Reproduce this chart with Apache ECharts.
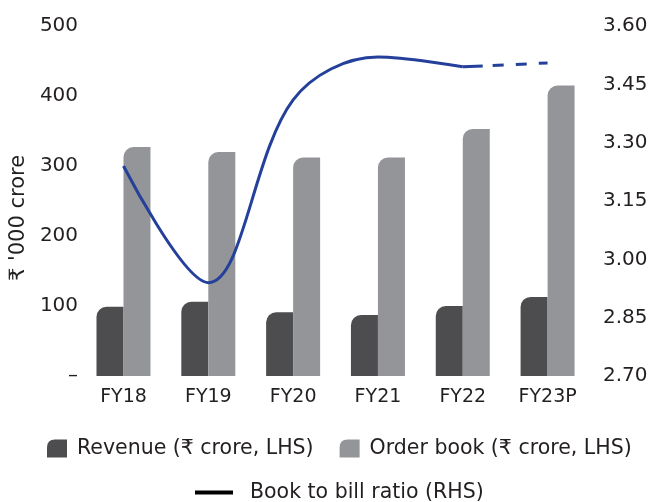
<!DOCTYPE html>
<html>
<head>
<meta charset="utf-8">
<script src="https://cdn.jsdelivr.net/npm/echarts@6/dist/echarts.min.js"></script>
<style>
  html, body { margin: 0; padding: 0; background: #fff; }
  #chart-container { width: 653px; height: 502px; }
</style>
</head>
<body>
<div id="chart-container"></div>
<script>
// datos
var years = ['FY18', 'FY19', 'FY20', 'FY21', 'FY22', 'FY23P'];
var revenue = [99, 106, 91, 87, 100, 113];
var orderBook = [327, 320, 312, 312, 353, 415];
var bookToBill = [3.24, 2.94, 3.41, 3.52, 3.495, 3.505];
var leftTicks = ['–', '100', '200', '300', '400', '500'];

// linea solida hasta FY22, punteada FY22 -> FY23P
var ratioSolid = bookToBill.map(function (v, i) { return i <= 4 ? v : null; });
var ratioDashed = bookToBill.map(function (v, i) { return i >= 4 ? v : null; });

var txt = '#231f20';
var fnt = '"DejaVu Sans", sans-serif';
var barIcon = 'path://M0,18 L0,8 Q0,0 8,0 L20,0 L20,18 Z';

var myChart = echarts.init(document.getElementById('chart-container'));

var option = {
    animation: false,
    textStyle: { fontFamily: fnt, color: txt },
    grid: { left: 80, right: 63, top: 26, bottom: 126 },
    legend: [
        {
            left: 47, top: 438, padding: 0,
            itemWidth: 20, itemHeight: 18, itemGap: 26,
            textStyle: { fontSize: 20.5, color: txt, fontFamily: fnt, padding: [8, 0, 0, 5] },
            data: [
                { name: 'Revenue (₹ crore, LHS)', icon: barIcon },
                { name: 'Order book (₹ crore, LHS)', icon: barIcon }
            ]
        },
        {
            left: 195, top: 482, padding: 0,
            itemWidth: 38, itemHeight: 4,
            textStyle: { fontSize: 20.5, color: txt, fontFamily: fnt, padding: [2, 0, 0, 12] },
            data: [
                { name: 'Book to bill ratio (RHS)', icon: 'rect', itemStyle: { color: '#000' } }
            ]
        }
    ],
    xAxis: {
        type: 'category',
        data: years,
        axisLine: { show: false },
        axisTick: { show: false },
        axisLabel: { fontSize: 19, color: txt, margin: 12 }
    },
    yAxis: [
        {
            type: 'value',
            min: 0, max: 500, interval: 100,
            name: "₹ '000 crore",
            nameLocation: 'middle',
            nameRotate: 90,
            nameGap: 44,
            nameTextStyle: { fontSize: 21, color: txt, padding: [0, 34, 0, 0] },
            splitLine: { show: false },
            axisLabel: {
                fontSize: 20, color: txt, margin: 3,
                formatter: function (v) { return leftTicks[v / 100]; }
            }
        },
        {
            type: 'value',
            min: 2.70, max: 3.60, interval: 0.15,
            splitLine: { show: false },
            axisLabel: {
                fontSize: 20, color: txt, margin: 13,
                formatter: function (v) { return v.toFixed(2); }
            }
        }
    ],
    series: [
        {
            name: 'Revenue (₹ crore, LHS)',
            type: 'bar',
            data: revenue,
            barWidth: 27,
            barGap: '0%',
            itemStyle: { color: '#4d4d4f', borderRadius: [10, 0, 0, 0] }
        },
        {
            name: 'Order book (₹ crore, LHS)',
            type: 'bar',
            data: orderBook,
            barWidth: 27,
            itemStyle: { color: '#939598', borderRadius: [10, 0, 0, 0] }
        },
        {
            name: 'Book to bill ratio (RHS)',
            type: 'line',
            yAxisIndex: 1,
            data: ratioSolid,
            smooth: 0.35,
            symbol: 'none',
            lineStyle: { color: '#24409a', width: 3 },
            itemStyle: { color: '#24409a' }
        },
        {
            name: 'ratio-proj',
            type: 'line',
            yAxisIndex: 1,
            data: ratioDashed,
            smooth: 0.35,
            symbol: 'none',
            lineStyle: { color: '#24409a', width: 3, type: [20, 10, 11, 12, 11, 12, 11, 12] }
        }
    ]
};

myChart.setOption(option);
</script>
</body>
</html>
